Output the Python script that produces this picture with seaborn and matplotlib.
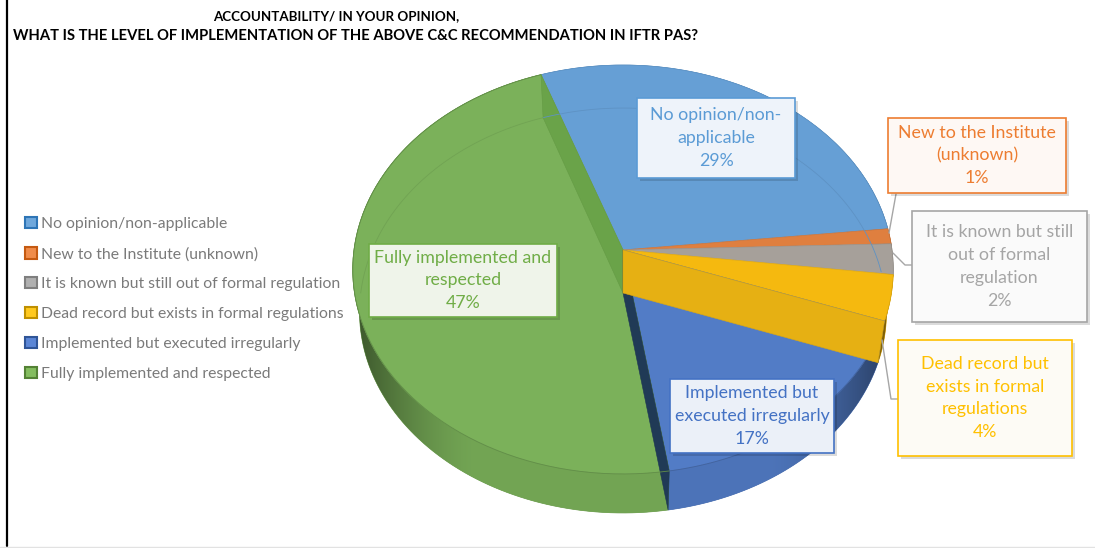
import numpy as np
import matplotlib
matplotlib.use("Agg")
import matplotlib.pyplot as plt
import seaborn as sns
from matplotlib.patches import Patch, Polygon, Rectangle
from matplotlib.transforms import Transform

# Data
categories = ["No opinion/non-applicable", "New to the Institute (unknown)",
              "It is known but still out of formal regulation",
              "Dead record but exists in formal regulations",
              "Implemented but executed irregularly", "Fully implemented and respected"]
values = [28.7, 1.2, 2.4, 3.6, 17.0, 47.1]
wrapped = ["No opinion/non-\napplicable", "New to the Institute\n(unknown)",
           "It is known but still\nout of formal\nregulation",
           "Dead record but\nexists in formal\nregulations",
           "Implemented but\nexecuted irregularly", "Fully implemented and\nrespected"]

face_colors = ["#669fd5", "#df7f3f", "#a6a09a", "#f5b90f", "#527cc6", "#7bb15a"]
text_colors = ["#5b9bd5", "#ed7d31", "#a5a5a5", "#ffc000", "#4472c4", "#70ad47"]
legend_edges = ["#2e75b6", "#c55a11", "#7f7f7f", "#bf9000", "#2f5597", "#548235"]
legend_fills = ["#6fa8dc", "#f08c4a", "#b0b0b0", "#ffc91f", "#5b86d6", "#84bd5f"]
box_fills = ["#eef3fa", "#fef8f4", "#fafafa", "#fdfbf5", "#ebf0f8", "#eff4ea"]

# label boxes in picture pixels: left, top, right, bottom
boxes = [(637, 98, 795, 178), (888, 118, 1066, 193), (912, 211, 1087, 322),
         (898, 340, 1072, 456), (670, 379, 834, 453), (369, 244, 557, 317)]
leaders = [[(896, 194), (889, 233)], [(912, 265), (905, 265), (893, 253)],
           [(898, 399), (891, 399), (882, 340)]]

CX, CY, A, B, K = 623, 250, 269, 202.6, 0.0954
START = 109.4


class Tilt(Transform):
    # flat disc seen in perspective, output in picture pixels
    input_dims = output_dims = 2

    def transform_non_affine(self, xy):
        xy = np.asarray(xy, dtype=float)
        w = 1 + K * xy[:, 1]
        return np.column_stack([CX + A * xy[:, 0] / w, CY - B * xy[:, 1] / w])


tilt = Tilt()


def rim_point(deg):
    t = np.radians(deg)
    return tilt.transform_non_affine(np.column_stack([np.cos(t), np.sin(t)]))


def low_point(deg):
    # same rim on the underside, a little narrower and lower
    p = rim_point(deg)
    v = np.minimum(np.sin(np.radians(deg)), 0)
    return np.column_stack([CX + (p[:, 0] - CX) * 0.975, p[:, 1] + 43 + 4 * v])


def shade(color, factor):
    return tuple(np.clip(np.array(matplotlib.colors.to_rgb(color)) * factor, 0, 1))


sns.set_theme(style="white")
plt.rcParams["font.family"] = ["Lato", "DejaVu Sans"]

fig, ax = plt.subplots(figsize=(10.95, 5.48), dpi=100)
ax.set_position([0, 0, 1, 1])

wedges, _ = ax.pie(values, colors=face_colors, startangle=START, counterclock=False, radius=1)
for w, c in zip(wedges, face_colors):
    w.set_transform(tilt + ax.transData)
    w.set_edgecolor(shade(c, 0.93))
    w.set_linewidth(0.5)
    w.set_zorder(3)

# slice limits in degrees, clockwise from the start angle
edges = START - np.cumsum([0] + values) * 3.6

# side of the disc, darker towards the left and right ends
xs = np.linspace(-1.02, 1.02, 400)
fade = 0.93 - 0.45 * (np.maximum(np.abs(xs) - 0.55, 0) / 0.45) ** 1.5
for i, c in enumerate(face_colors):
    steps = np.linspace(edges[i], edges[i + 1], 120)
    outline = np.vstack([rim_point(steps), low_point(steps)[::-1]])
    side = Polygon(outline, closed=True, facecolor=shade(c, 0.9), edgecolor=shade(c, 0.88),
                   linewidth=0.5, zorder=1)
    ax.add_patch(side)
    grad = np.clip(np.outer(fade, matplotlib.colors.to_rgb(c)), 0, 1)[None, :, :]
    im = ax.imshow(grad, extent=(CX - 1.02 * A, CX + 1.02 * A, 0, 548), aspect="auto",
                   interpolation="bilinear", zorder=2)
    im.set_clip_path(side)

ax.set_aspect("auto")
ax.set_xlim(0, 1095)
ax.set_ylim(548, 0)
ax.axis("off")


def cut_face(deg, color, z=4):
    d = np.array([deg])
    top, low = rim_point(d)[0], low_point(d)[0]
    ax.add_patch(Polygon([(CX, CY), top, low, (CX, CY + 43)], closed=True,
                         facecolor=color, edgecolor=shade(color, 0.95), linewidth=0.4, zorder=z))


# faces of the cuts that show through the top
cut_face(edges[0], "#6aa349")
cut_face(edges[5], "#203a56")
cut_face(edges[4], "#e6b013", z=5)

# far edge of the bottom showing through
for i, lo, hi in [(0, edges[1], edges[0]), (5, edges[0], 180)]:
    arc = low_point(np.linspace(lo, hi, 60))
    ax.plot(arc[:, 0], arc[:, 1], color=shade(face_colors[i], 0.92), lw=0.6, zorder=4)

# front edge between top and side
for i in [5, 4]:
    arc = rim_point(np.linspace(edges[i], edges[i + 1], 80))
    ax.plot(arc[:, 0], arc[:, 1], color=shade(face_colors[i], 0.8), lw=0.6, zorder=4)

# leader lines
for line in leaders:
    lx, ly = zip(*line)
    ax.plot(lx, ly, color="#a6a6a6", lw=1.0, zorder=6)

# data labels
for name, val, box, fill, col in zip(wrapped, values, boxes, box_fills, text_colors):
    x0, y0, x1, y1 = box
    ax.add_patch(Rectangle((x0 + 3, y0 + 3), x1 - x0, y1 - y0, facecolor="#000000", alpha=0.14,
                           edgecolor="none", zorder=7))
    ax.add_patch(Rectangle((x0, y0), x1 - x0, y1 - y0, facecolor=fill, edgecolor=col,
                           linewidth=1.2, zorder=8))
    ax.text((x0 + x1) / 2, (y0 + y1) / 2, f"{name}\n{val:.0f}%", color=col, fontsize=12.8,
            ha="center", va="center", linespacing=1.52, zorder=9)

# legend
handles = [Patch(facecolor=f, edgecolor=e, linewidth=1.5) for f, e in zip(legend_fills, legend_edges)]
ax.legend(handles, categories, loc="upper left", bbox_to_anchor=(25 / 1095, 1 - 217 / 548),
          frameon=False, fontsize=11.3, labelcolor="#7a7a7a", labelspacing=1.0,
          handlelength=0.75, handleheight=0.75, handletextpad=0.25, borderpad=0, borderaxespad=0)

# title
ax.text(336, 16.5, "ACCOUNTABILITY/ IN YOUR OPINION,", fontsize=9.6, fontweight="bold",
        color="black", ha="center", va="center")
ax.text(356, 35.5, "WHAT IS THE LEVEL OF IMPLEMENTATION OF THE ABOVE C&C RECOMMENDATION IN IFTR PAS?",
        fontsize=10.6, fontweight="bold", color="black", ha="center", va="center")

# frame of the original screenshot
ax.axvline(6.5, color="black", lw=1.6, ymin=2 / 548)
ax.axhline(546.5, color="#e2e2e2", lw=1.0)

fig.savefig("out.png", dpi=100)
